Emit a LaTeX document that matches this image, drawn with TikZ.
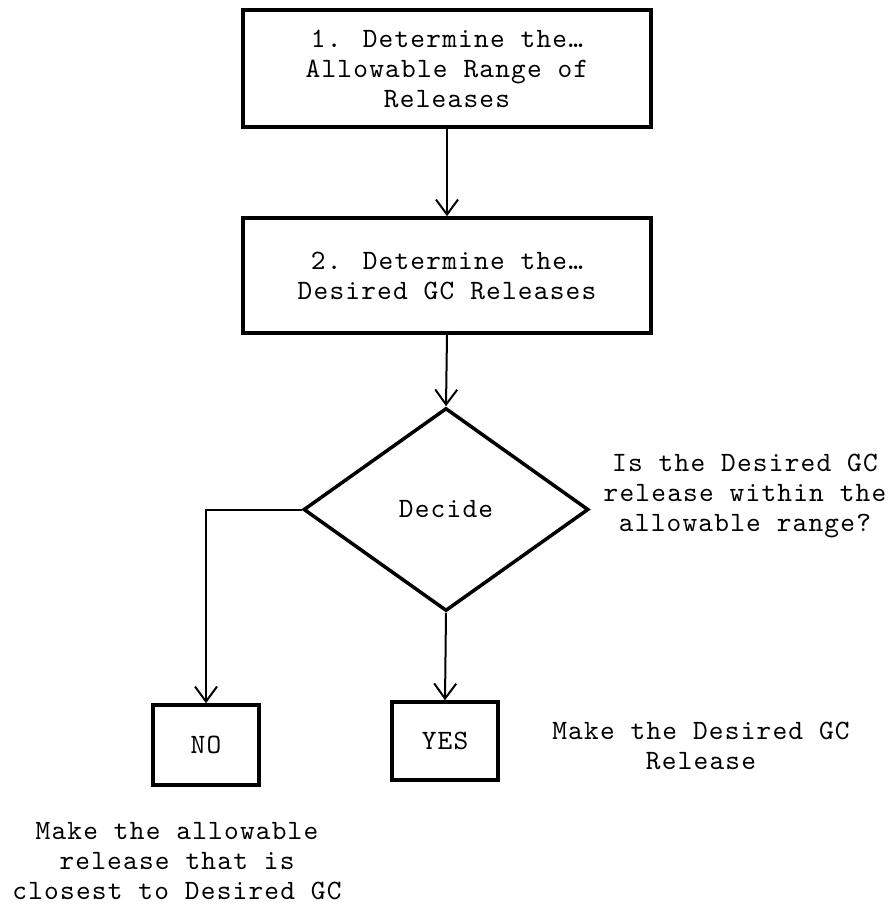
\documentclass[tikz,border=0pt]{standalone}
\usepackage{fontspec}
\newfontfamily\courfont[LetterSpace=4.3]{lmmono10-regular.otf}
\usetikzlibrary{arrows.meta,shapes.geometric}
\begin{document}
\begin{tikzpicture}[x=1pt,y=-1pt,
  txt/.style={font=\courfont\fontsize{28}{30}\selectfont, align=center, inner sep=0pt},
  stepbox/.style={txt, draw, line width=3.5pt, rectangle},
  decbox/.style={txt, draw, line width=3.5pt, diamond},
  conn/.style={line width=2pt, -{Straight Barb[length=15pt,width=22pt,line width=2pt]}},
  lbl/.style={txt}
]
\useasboundingbox (0,0) rectangle (893,905);
\node[stepbox, minimum width=408pt, minimum height=117pt] (b1) at (447,68.5) {1. Determine the…\\Allowable Range of\\Releases};
\node[stepbox, minimum width=408pt, minimum height=115pt] (b2) at (447,275.5) {2. Determine the…\\Desired GC Releases};
\node[decbox, minimum width=285pt, minimum height=203pt] (d) at (446,509.5) {Decide};
\node[stepbox, minimum width=106pt, minimum height=80pt] (no) at (206,745) {NO};
\node[stepbox, minimum width=106pt, minimum height=78pt] (yes) at (445,741) {YES};
\node[lbl] (q) at (745,496) {Is the Desired GC\\release within the\\allowable range?};
\node[lbl] (yl) at (701,745.5) {Make the Desired GC\\Release};
\node[lbl] (nl) at (177,861) {Make the allowable\\release that is\\closest to Desired GC};
\draw[conn] (b1.south) -- (b2.north);
\draw[conn] (b2.south) -- (d.north);
\draw[conn] (d.west) -| (no.north);
\draw[conn] (d.south) -- (yes.north);
\end{tikzpicture}
\end{document}
